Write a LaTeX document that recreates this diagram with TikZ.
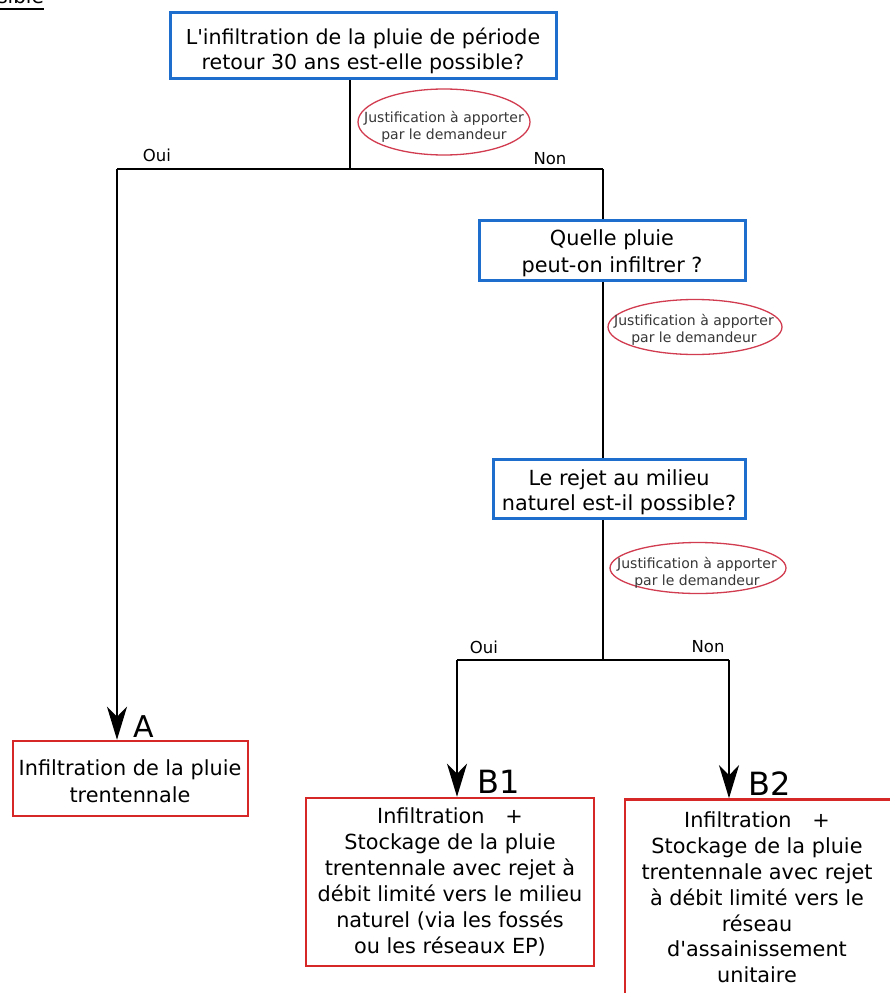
\documentclass[tikz,border=0pt]{standalone}
\usepackage{fontspec}
\setmainfont{DejaVu Sans}
\usetikzlibrary{arrows.meta,shapes.geometric}
\definecolor{qblue}{RGB}{30,110,205}
\definecolor{rred}{RGB}{215,40,40}
\definecolor{ered}{RGB}{210,60,80}
\definecolor{jtext}{RGB}{55,55,55}
\begin{document}
\begin{tikzpicture}[x=1pt,y=-1pt,
  qbox/.style={draw=qblue, line width=3pt, inner sep=0pt},
  rbox/.style={draw=rred, line width=2.5pt, inner sep=0pt},
  btxt/.style={align=center, inner sep=0pt},
  jell/.style={ellipse, draw=ered, line width=1.3pt, inner sep=0pt},
  jtxt/.style={align=center, font=\fontsize{14}{17}\selectfont, text=jtext, inner sep=0pt},
  link/.style={line width=1.7pt},
  arr/.style={link, -{Stealth[length=33pt,width=20pt,inset=10pt]}},
  lab/.style={font=\fontsize{16.5}{18}\selectfont, inner sep=0pt},
  big/.style={anchor=base west, inner sep=0pt}]
\useasboundingbox (0,0) rectangle (890,993);
\clip (0,0) rectangle (890,993);
\fill[white] (0,0) rectangle (890,993);

% fragment of a title, cut off at the top edge
\node[anchor=base east, inner sep=0pt, font=\fontsize{20}{20}\selectfont] (frag) at (44,3) {possible};
\draw[line width=1.5pt] ([yshift=-6pt]frag.base west) -- ([yshift=-6pt]frag.base east);

% question boxes
\node[qbox, minimum width=386pt, minimum height=66pt] (q1) at (363.5,45.5) {};
\node[btxt, font=\fontsize{20.6}{25}\selectfont] (q1t) at (363,50.5)
  {L\textquotesingle infiltration de la pluie de période\\retour 30 ans est-elle possible?};
\node[qbox, minimum width=266pt, minimum height=60pt] (q2) at (612.5,250.5) {};
\node[btxt, font=\fontsize{20.8}{27}\selectfont] (q2t) at (612,253.5)
  {Quelle pluie\\peut-on infiltrer ?};
\node[qbox, minimum width=252pt, minimum height=59pt] (q3) at (619.5,489) {};
\node[btxt, font=\fontsize{20.8}{25}\selectfont] (q3t) at (619,492.5)
  {Le rejet au milieu\\naturel est-il possible?};

% result boxes
\node[rbox, minimum width=235pt, minimum height=75pt] (rA) at (130.5,778.5) {};
\node[btxt, font=\fontsize{20.8}{27}\selectfont] (rAt) at (130,781.5)
  {Infiltration de la pluie\\trentennale};
\node[rbox, minimum width=288pt, minimum height=168pt] (rB1) at (450,882) {};
\node[btxt, font=\fontsize{20.8}{26}\selectfont] (rB1t) at (450,882)
  {Infiltration\quad +\\Stockage de la pluie\\trentennale avec rejet à\\débit limité vers le milieu\\naturel (via les fossés\\ou les réseaux EP)};
\node[rbox, minimum width=269pt, minimum height=205pt] (rB2) at (759.5,902) {};
\node[btxt, font=\fontsize{20.8}{25.8}\selectfont] (rB2t) at (757,897.5)
  {Infiltration\quad +\\Stockage de la pluie\\trentennale avec rejet\\à débit limité vers le\\réseau\\d\textquotesingle assainissement\\unitaire};

% justification ellipses
\node[jell, minimum width=172pt, minimum height=66pt] (e1) at (444,122) {};
\node[jtxt] (e1t) at (444,127) {Justification à apporter\\par le demandeur};
\node[jell, minimum width=174pt, minimum height=55pt] (e2) at (695,327) {};
\node[jtxt] (e2t) at (694,330) {Justification à apporter\\par le demandeur};
\node[jell, minimum width=176pt, minimum height=51pt] (e3) at (698,568) {};
\node[jtxt] (e3t) at (697,573) {Justification à apporter\\par le demandeur};

% junction coordinates
\coordinate (j1) at (350,169);
\coordinate (l1) at (117,169);
\coordinate (r1) at (603,169);
\coordinate (j2) at (603,660);
\coordinate (l2) at (457,660);
\coordinate (r2) at (729,660);

% connectors
\draw[link] (q1.south -| j1) -- (j1);
\draw[link] (l1) -- (r1);
\draw[arr] (l1) -- (rA.north -| l1);
\draw[link] (r1) -- (q2.north -| r1);
\draw[link] (q2.south -| r1) -- (q3.north -| r1);
\draw[link] (q3.south -| r1) -- (j2);
\draw[link] (l2) -- (r2);
\draw[arr] (l2) -- (rB1.north -| l2);
\draw[arr] (r2) -- (rB2.north -| r2);

% branch labels
\node[lab] (oui1) at (157,155) {Oui};
\node[lab] (non1) at (550,159) {Non};
\node[lab] (oui2) at (484,647) {Oui};
\node[lab] (non2) at (708,647) {Non};

% case letters
\node[big, font=\fontsize{30}{30}\selectfont] (la) at (133,737) {A};
\node[big, font=\fontsize{32}{32}\selectfont] (lb1) at (477,793) {B1};
\node[big, font=\fontsize{32}{32}\selectfont] (lb2) at (748,795) {B2};
\end{tikzpicture}
\end{document}
